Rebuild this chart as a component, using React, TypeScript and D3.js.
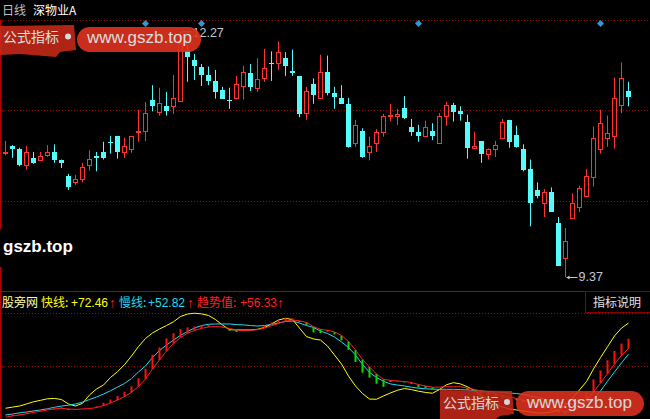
import React from 'react';
import * as d3 from 'd3';

const W = 650;
const H = 419;

const periodLabel = '日线';
const stockName = '深物业A';
const indicatorName = '股旁网';
const fastName = '快线';
const slowName = '慢线';
const trendName = '趋势值';
const helpLabel = '指标说明';

const opens = [10.84, 10.92, 10.89, 10.70, 10.78, 10.75, 10.81, 10.85, 10.76, 10.56,
  10.49, 10.53, 10.69, 10.80, 10.85, 10.97, 11.04, 10.85, 10.88, 11.08,
  11.10, 11.47, 11.32, 11.39, 11.39, 11.45, 12.04, 11.94, 11.85, 11.76,
  11.69, 11.58, 11.46, 11.49, 11.63, 11.78, 11.61, 11.72, 11.90, 11.90,
  11.96, 11.81, 11.75, 11.31, 11.65, 11.49, 11.80, 11.55, 11.49, 11.42,
  10.96, 11.10, 10.85, 10.95, 11.08, 11.28, 11.27, 11.37, 11.15, 11.09,
  11.04, 11.10, 10.96, 11.28, 11.41, 11.34, 11.21, 10.90, 10.98, 10.82,
  10.89, 11.01, 11.23, 11.05, 10.88, 10.65, 10.40, 10.24, 10.38, 10.01,
  9.60, 10.07, 10.20, 10.33, 10.55, 10.88, 11.01, 11.04, 11.40, 11.57];

const highs = [10.98, 10.93, 10.90, 10.92, 10.85, 10.85, 10.93, 10.94, 10.76, 10.59,
  10.58, 10.72, 10.87, 10.85, 10.97, 11.04, 11.04, 11.02, 11.04, 11.35,
  11.44, 11.64, 11.61, 11.56, 11.76, 12.27, 12.12, 12.01, 11.89, 11.86,
  11.82, 11.62, 11.61, 11.75, 11.87, 11.89, 11.96, 12.07, 12.04, 12.16,
  12.03, 12.06, 11.75, 11.62, 11.72, 12.00, 11.99, 11.62, 11.64, 11.49,
  11.23, 11.13, 11.03, 11.12, 11.30, 11.42, 11.36, 11.51, 11.24, 11.17,
  11.22, 11.19, 11.31, 11.44, 11.43, 11.39, 11.29, 11.09, 10.98, 10.89,
  10.98, 11.24, 11.23, 11.16, 10.94, 10.76, 10.49, 10.41, 10.43, 10.08,
  9.95, 10.36, 10.45, 10.65, 11.15, 11.35, 11.28, 11.73, 11.91, 11.68];

const lows = [10.81, 10.78, 10.68, 10.64, 10.71, 10.75, 10.79, 10.72, 10.66, 10.40,
  10.46, 10.49, 10.63, 10.62, 10.76, 10.83, 10.77, 10.78, 10.84, 10.97,
  10.98, 11.33, 11.28, 11.28, 11.30, 11.44, 11.68, 11.70, 11.63, 11.64,
  11.48, 11.48, 11.36, 11.47, 11.47, 11.57, 11.56, 11.68, 11.69, 11.82,
  11.75, 11.75, 11.26, 11.23, 11.42, 11.48, 11.52, 11.36, 11.42, 10.90,
  10.91, 10.78, 10.75, 10.85, 11.03, 11.21, 11.17, 11.24, 11.04, 10.97,
  11.04, 10.99, 10.96, 11.16, 11.21, 11.22, 10.77, 10.90, 10.72, 10.76,
  10.79, 11.01, 10.90, 10.90, 10.62, 9.97, 10.30, 10.08, 10.14, 9.50,
  9.37, 10.07, 10.14, 10.33, 10.44, 10.83, 10.91, 10.89, 11.31, 11.39];

const closes = [10.85, 10.89, 10.70, 10.85, 10.72, 10.80, 10.85, 10.76, 10.72, 10.44,
  10.53, 10.67, 10.77, 10.78, 10.78, 10.95, 10.85, 10.92, 11.04, 11.10,
  11.31, 11.39, 11.43, 11.34, 11.49, 12.14, 11.97, 11.87, 11.76, 11.69,
  11.56, 11.48, 11.45, 11.65, 11.80, 11.62, 11.71, 11.84, 11.89, 12.03,
  11.87, 11.78, 11.30, 11.57, 11.52, 11.80, 11.55, 11.50, 11.42, 10.91,
  11.17, 10.79, 10.92, 11.08, 11.28, 11.29, 11.30, 11.25, 11.09, 11.04,
  11.14, 11.04, 11.27, 11.41, 11.32, 11.30, 10.90, 10.92, 10.82, 10.89,
  10.93, 11.21, 10.97, 10.91, 10.64, 10.25, 10.33, 10.38, 10.14, 9.50,
  9.80, 10.24, 10.42, 10.57, 11.01, 11.19, 11.07, 11.49, 11.73, 11.50];

const fastLine = [18.5, 19.2, 19.9, 21.2, 22.6, 23.5, 24.5, 24.7, 24.0, 21.2,
  19.9, 21.6, 26.9, 30.7, 33.2, 38.0, 41.7, 46.1, 51.6, 57.6,
  62.7, 66.2, 68.7, 70.9, 73.3, 76.6, 78.2, 78.7, 78.3, 77.3,
  74.7, 71.2, 68.3, 68.1, 68.1, 68.1, 68.5, 69.7, 71.9, 74.4,
  75.5, 74.7, 69.3, 63.9, 62.4, 61.7, 57.9, 52.2, 46.5, 38.9,
  32.6, 27.8, 24.3, 24.2, 26.3, 28.2, 29.9, 31.0, 30.3, 29.3,
  28.5, 28.0, 30.4, 33.4, 34.7, 33.9, 32.1, 29.7, 26.6, 23.7,
  21.2, 19.3, 18.0, 17.4, 16.7, 16.1, 15.5, 15.5, 16.1, 17.4,
  20.5, 25.0, 30.1, 35.4, 43.4, 50.6, 57.5, 64.3, 69.3, 72.46];

const slowLine = [14.2, 14.8, 15.6, 16.1, 16.8, 17.4, 18.2, 19.1, 19.9, 20.4,
  21.2, 22.4, 24.0, 25.6, 27.5, 29.6, 31.9, 34.2, 37.3, 41.5,
  45.3, 50.6, 55.1, 58.6, 61.7, 64.7, 67.1, 69.3, 70.9, 71.7,
  71.9, 71.9, 71.9, 71.5, 71.3, 70.9, 70.6, 70.9, 71.6, 72.5,
  73.5, 73.8, 72.5, 70.9, 69.7, 67.4, 65.9, 63.6, 60.5, 57.0,
  52.2, 46.2, 41.2, 38.0, 35.6, 33.9, 33.2, 32.6, 31.8, 31.2,
  30.8, 30.6, 30.5, 30.5, 30.5, 30.3, 30.1, 29.7, 29.4, 29.1,
  28.8, 28.5, 28.1, 27.8, 27.2, 26.3, 25.3, 24.4, 23.4, 22.4,
  21.5, 21.2, 21.2, 22.4, 24.0, 29.4, 35.6, 41.5, 47.2, 52.82];

const trendLine = [12.8, 13.6, 14.2, 15.0, 15.9, 16.6, 17.4, 18.0, 18.5, 18.0,
  17.8, 18.0, 18.3, 18.9, 20.2, 21.8, 23.7, 25.9, 28.6, 32.3,
  37.0, 43.4, 49.1, 54.8, 59.5, 63.3, 66.0, 67.8, 69.1, 70.0,
  70.2, 70.0, 69.0, 68.1, 67.8, 67.9, 68.3, 69.3, 70.8, 72.2,
  73.6, 74.4, 73.9, 72.8, 70.2, 68.5, 67.9, 66.8, 64.6, 60.8,
  55.4, 49.4, 44.6, 40.2, 36.8, 36.1, 35.8, 35.4, 34.8, 33.5,
  32.6, 31.8, 31.9, 32.1, 32.1, 32.1, 31.3, 30.4, 29.4, 28.5,
  27.5, 26.6, 25.6, 24.7, 23.7, 22.4, 21.2, 19.9, 18.7, 17.4,
  16.4, 16.8, 19.3, 23.1, 28.8, 34.5, 40.5, 46.5, 51.9, 56.33];

const markerIndex = [20, 28, 59, 85];

const PRICE_DOMAIN: [number, number] = [9.2042, 12.4113];
const IND_DOMAIN: [number, number] = [11.68, 78.85];

const RED = '#FF3232';
const CYAN = '#54FCFC';
const GRID = '#9A0A0A';
const FRAME = '#B00000';
const CJK = "'Noto Sans CJK SC', 'Liberation Sans', sans-serif";
const LAT = "'Liberation Sans', 'Noto Sans CJK SC', sans-serif";
const ARROW = "'Liberation Sans', 'DejaVu Sans', sans-serif";

const fmt = (v: number) => '+' + v.toFixed(2);

export default function App() {
  const n = opens.length;
  const xb = d3.scaleBand<number>().domain(d3.range(n)).range([1.8, 1.8 + 7 * n]);
  const cx = (i: number) => Math.round((xb(i) as number) + xb.bandwidth() / 2 - 0.3) + 0.5;

  const mainTop = 20, mainBottom = 291;
  const subTop = 313, subBottom = 419;
  const y = d3.scaleLinear().domain(PRICE_DOMAIN).range([mainBottom, mainTop]);
  const ys = d3.scaleLinear().domain(IND_DOMAIN).range([subBottom, subTop]);

  const mainGrid = [0, 1, 2].map(k => mainTop + (k * (mainBottom - mainTop)) / 3);
  const subGrid = [0, 1].map(k => subTop + (k * (subBottom - subTop)) / 2);

  const line = (arr: number[]) =>
    d3.line<number>().x((_, i) => cx(i)).y(v => ys(v))(arr) as string;

  const hiIdx = d3.maxIndex(highs);
  const loIdx = d3.minIndex(lows);

  const bars = trendLine.map((v, i) => {
    if (i === 0) return null;
    const d = v - trendLine[i - 1];
    if (Math.abs(d) < 0.05) return null;
    return { i, y1: ys(v), y2: ys(v + d * 1.4), up: d > 0 };
  }).filter(Boolean) as { i: number; y1: number; y2: number; up: boolean }[];

  return (
    <svg width={W} height={H} style={{ position: 'fixed', left: 0, top: 0, display: 'block', background: '#000' }}>
      <rect x={0} y={0} width={W} height={H} fill="#000" />
      {/* header */}
      <text x={2} y={15} fontFamily={CJK} fontSize={12} fill="#C0C0C0">{periodLabel}</text>
      <text x={33} y={15} fontFamily={CJK} fontSize={12} fill="#FFFFFF">{stockName}</text>

      {/* grid */}
      {mainGrid.map((g, k) => (
        <line key={'mg' + k} x1={2} x2={W} y1={Math.round(g) + 0.5} y2={Math.round(g) + 0.5} stroke={GRID} strokeDasharray="1 2" />
      ))}
      {subGrid.map((g, k) => (
        <line key={'sg' + k} x1={2} x2={W} y1={Math.round(g) + 0.5} y2={Math.round(g) + 0.5} stroke={GRID} strokeDasharray="1 2" />
      ))}

      {/* frame */}
      <rect x={0} y={mainTop} width={1.6} height={H - mainTop} fill={FRAME} />
      <line x1={0} x2={W} y1={291.5} y2={291.5} stroke={FRAME} />
      <rect x={585.5} y={291.5} width={70} height={21} fill="none" stroke="#8A0000" />
      <text x={593} y={307} fontFamily={CJK} fontSize={12} fill="#E0E0E0">{helpLabel}</text>

      {/* markers */}
      {markerIndex.map(i => (
        <path key={'mk' + i} d={`M${cx(i)},${20} l3.5,3.5 l-3.5,3.5 l-3.5,-3.5 z`} fill="#2E9AD0" />
      ))}

      {/* candles */}
      {opens.map((o, i) => {
        const c = closes[i];
        const up = c >= o;
        const col = up ? RED : CYAN;
        const x0 = cx(i);
        const yt = Math.round(y(Math.max(o, c)));
        const yb = Math.round(y(Math.min(o, c)));
        const yh = y(highs[i]);
        const yl = y(lows[i]);
        if (up) {
          const h = Math.max(yb - yt, 0);
          return (
            <g key={'c' + i}>
              <line x1={x0} x2={x0} y1={yh} y2={yt} stroke={col} />
              <line x1={x0} x2={x0} y1={yb + 1} y2={yl} stroke={col} />
              {h > 0 ? (
                <rect x={x0 - 2} y={yt + 0.5} width={4} height={h} fill="#000" stroke={col} />
              ) : (
                <line x1={x0 - 2.5} x2={x0 + 2.5} y1={yt + 0.5} y2={yt + 0.5} stroke={col} />
              )}
            </g>
          );
        }
        return (
          <g key={'c' + i}>
            <line x1={x0} x2={x0} y1={yh} y2={yl} stroke={col} />
            <rect x={x0 - 2.5} y={yt} width={5} height={Math.max(yb - yt, 1)} fill={col} />
          </g>
        );
      })}

      {/* high / low labels */}
      <line x1={cx(hiIdx) + 1} x2={cx(hiIdx) + 11} y1={y(highs[hiIdx])} y2={y(highs[hiIdx])} stroke="#C0C8D8" />
      <text x={cx(hiIdx) + 12} y={y(highs[hiIdx]) + 5} fontFamily={LAT} fontSize={12.5} fill="#C0C8D8">{highs[hiIdx].toFixed(2)}</text>
      <line x1={cx(loIdx) + 1} x2={cx(loIdx) + 12} y1={Math.round(y(lows[loIdx])) + 0.5} y2={Math.round(y(lows[loIdx])) + 0.5} stroke="#C0C8D8" />
      <path d={`M${cx(loIdx) + 1},${Math.round(y(lows[loIdx])) + 0.5} l3,-2 l0,4 z`} fill="#C0C8D8" />
      <text x={cx(loIdx) + 13} y={y(lows[loIdx]) + 4} fontFamily={LAT} fontSize={12.5} fill="#C0C8D8">{lows[loIdx].toFixed(2)}</text>

      {/* sub header */}
      <g fontSize={12} fontFamily={CJK}>
        <text x={2} y={307} fill="#FFFFA0">{indicatorName}</text>
        <text x={41} y={307} fill="#FFFF00">{fastName}:</text>
        <text x={71} y={307} fill="#FFFF00" fontFamily={LAT}>{fmt(fastLine[n - 1])}</text>
        <text x={109} y={308} fill="#FF2020" fontFamily={ARROW} fontSize={14}>↑</text>
        <text x={119} y={307} fill="#20D8F8">{slowName}:</text>
        <text x={148} y={307} fill="#20D8F8" fontFamily={LAT}>{fmt(slowLine[n - 1])}</text>
        <text x={187} y={308} fill="#FF2020" fontFamily={ARROW} fontSize={14}>↑</text>
        <text x={197} y={307} fill="#FF2020">{trendName}:</text>
        <text x={240} y={307} fill="#FF2020" fontFamily={LAT}>{fmt(trendLine[n - 1])}</text>
        <text x={277} y={308} fill="#FF2020" fontFamily={ARROW} fontSize={14}>↑</text>
      </g>

      {/* indicator */}
      <path d={line(fastLine)} fill="none" stroke="#FFFF00" strokeWidth={1} />
      <path d={line(slowLine)} fill="none" stroke="#20D8F8" strokeWidth={1} />
      {bars.map(b => (
        <line key={'b' + b.i} x1={cx(b.i)} x2={cx(b.i)} y1={b.y1} y2={b.y2} stroke={b.up ? '#FF1010' : '#00E000'} strokeWidth={2} />
      ))}
      <path d={line(trendLine)} fill="none" stroke="#FF2020" strokeWidth={1} />

      {/* watermarks */}
      <g opacity={0.9}>
        <path d="M0,26 L74,25 L76,50 L60,52 L56,57 L20,54 L0,55 Z" fill="#C42818" />
        <text x={3} y={42} fontFamily={CJK} fontSize={14} fill="#F4F4F4">公式指标</text>
        <circle cx={68} cy={36.5} r={3} fill="#F4F4F4" />
        <rect x={77} y={27} width={124} height={25} rx={12.5} fill="#E0321E" />
        <text x={87} y={43} fontFamily={LAT} fontSize={17} fill="#F4F4F4">www.gszb.top</text>
      </g>
      <rect x={0} y={229} width={78} height={38} fill="#000" />
      <text x={3} y={252} fontFamily={LAT} fontSize={17} fontWeight="bold" fill="#FFFFFF">gszb.top</text>
      <g opacity={0.88}>
        <path d="M440,390 L512,391 L514,414 L500,416 L496,419 L440,419 Z" fill="#C42818" />
        <text x={443} y={408} fontFamily={CJK} fontSize={14} fill="#F4F4F4">公式指标</text>
        <circle cx={507} cy={402} r={3} fill="#F4F4F4" />
        <rect x={516} y={391} width={128} height={25} rx={12.5} fill="#E0321E" />
        <text x={527} y={408} fontFamily={LAT} fontSize={17} fill="#F4F4F4">www.gszb.top</text>
      </g>
    </svg>
  );
}
